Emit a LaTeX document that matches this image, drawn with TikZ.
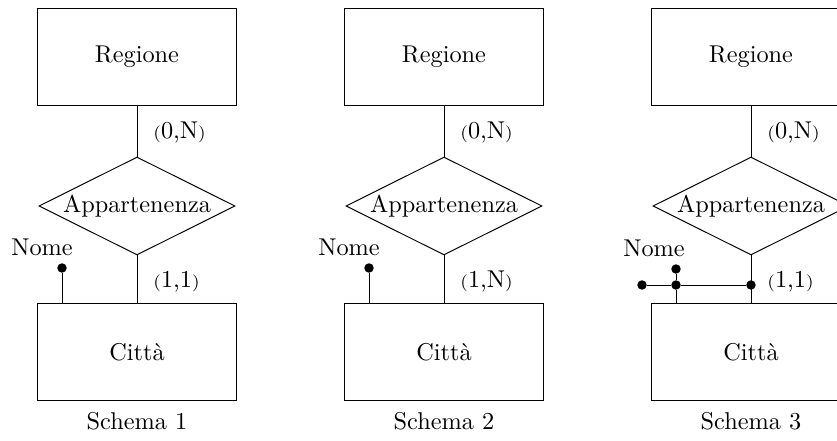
\documentclass[tikz,border=0pt]{standalone}
\usepackage{tikz}
\usetikzlibrary{positioning, shapes.geometric}

\tikzset{
  entity/.style={draw, minimum width=81.5pt, minimum height=39.9pt, inner sep=0pt},
  relation/.style={draw, diamond, aspect=2, inner sep=0pt, minimum width=80.7pt, minimum height=40.3pt},
  dot/.style={circle, fill, inner sep=0pt, minimum size=3.9pt},
  card/.style={anchor=west, inner sep=0pt}
}
\newcommand{\crd}[1]{{\scriptsize(}#1{\scriptsize)}}

\begin{document}
\begin{tikzpicture}[x=0.4115pt,y=-0.4115pt]
\clip (0,0) rectangle (837,441);
% the three schemas, side by side
\foreach \i/\x/\cb in {1/137/{1,1}, 2/444/{1,N}, 3/751/{1,1}} {
  \node[entity] (reg\i) at (\x,57) {Regione};
  \node[relation] (app\i) at (\x,206) {Appartenenza};
  \node[entity] (cit\i) at (\x,352) {Citt\`a};
  \node (cap\i) at (\x,421) {Schema \i};
  \draw (reg\i) -- (app\i);
  \draw (app\i) -- (cit\i);
  \node[card] (c0\i) at (\x+16,133) {\crd{0,N}};
  \node[card] (c1\i) at (\x+16,282) {\crd{\cb}};
}
% attribute Nome, schema 1 and 2
\node[dot] (d1) at (62,268) {};
\node (n1) at (42,247) {Nome};
\draw (d1) -- (d1 |- cit1.north);
\node[dot] (d2) at (369,268) {};
\node (n2) at (349,247) {Nome};
\draw (d2) -- (d2 |- cit2.north);
% schema 3: external identifier
\node[dot] (d3) at (676,269) {};
\node (n3) at (654,248) {Nome};
\node[dot] (k1) at (642,285) {};
\node[dot] (k2) at (676,285) {};
\node[dot] (k3) at (751,285) {};
\draw (k1) -- (k2) -- (k3);
\draw (d3) -- (k2) -- (k2 |- cit3.north);
\end{tikzpicture}
\end{document}
